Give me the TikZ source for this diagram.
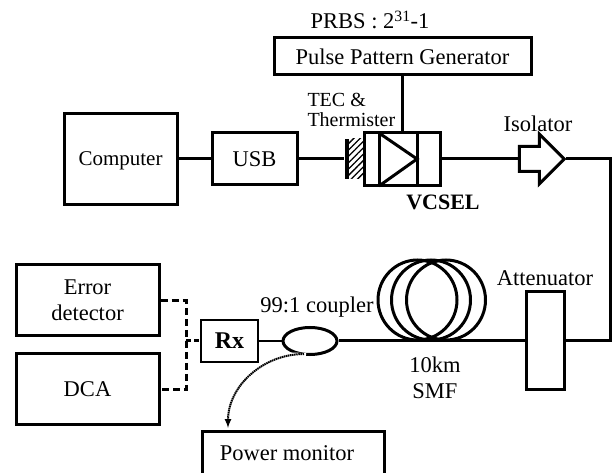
\documentclass[tikz,border=0pt]{standalone}
\usepackage{fontspec}
\setmainfont{Liberation Serif}
\usetikzlibrary{shapes.geometric}
\usetikzlibrary{shapes.arrows}
\usetikzlibrary{patterns.meta}
\usetikzlibrary{arrows,positioning}
\newcommand\fs{\fontsize{22.5}{26}\selectfont}
\tikzset{box/.style={draw,shape=rectangle,line width=3pt,inner sep=0pt,font=\fs,align=center},
        coil/.style={draw,shape=ellipse,line width=3pt,inner sep=0pt,minimum width=79,minimum height=80}}
\begin{document}
\begin{tikzpicture}[x=1pt,y=-1pt,line width=3pt]%
        \useasboundingbox (0,0) rectangle (614,473); %%
        \clip (0,0) rectangle (614,473); %%
        \node[box,minimum width=257,minimum height=37] (ppg) at (402.5,56.5)  {Pulse Pattern Generator}; %%
        \node[box,minimum width=113,minimum height=91,text depth=0pt,font=\fontsize{21}{26}\selectfont] (comp) at (120.5,159)  {Computer}; %%
        \node[box,minimum width=85,minimum height=52] (usb) at (254.5,159)  {USB}; %%
        \node[box,minimum width=76,minimum height=53] (vcsel) at (402,159)  {}; %%
        \node[box,minimum width=38,minimum height=98] (att) at (545,341)  {}; %%
        \node[box,minimum width=143,minimum height=71] (err) at (87.5,300.5)  {Error\\detector}; %%
        \node[box,minimum width=143,minimum height=71] (dca) at (87.5,389.5)  {DCA}; %%
        \node[box,minimum width=182,minimum height=44] (pm) at (293,453.5)  {}; %%
        \node[box,minimum width=57,minimum height=42,line width=2.2pt,font=\fontsize{24}{26}\selectfont\bfseries] (rx) at (229.5,341)  {Rx}; %%
        \begin{scope}[inner sep=0pt]
        \tikzstyle{every node}=[font=\fs,align=center] %%
        \node (prbs) at (370,20)  {PRBS : 2\textsuperscript{31}-1}; %%
        \node[align=left,anchor=west,font=\fontsize{20}{20}\selectfont] (tec) at (306,110)  {TEC \&\\Thermister}; %%
        \node[font=\fontsize{22}{26}\selectfont\bfseries] (vlab) at (443,202)  {VCSEL}; %%
        \node (isolab) at (538,124)  {Isolator}; %%
        \node (attlab) at (545,278)  {Attenuator}; %%
        \node (cplab) at (317,307)  {99:1 coupler}; %%
        \node (smf) at (435,378)  {10km\\SMF}; %%
        \node (pmlab) at (287,453)  {Power monitor}; %%
        \end{scope}
        \node[coil] (coil1) at (417.5,300)  {}; %%
        \node[coil] (coil2) at (431,300)  {}; %%
        \node[coil] (coil3) at (446,300)  {}; %%
        \node[draw,line width=3pt,shape=ellipse,inner sep=0pt,minimum width=54,minimum height=27] (cp) at (310,341)  {}; %%
        \node[draw=none,pattern={Lines[angle=45,distance=4.5pt,line width=1.3pt]},inner sep=0pt,minimum width=15,minimum height=40] (hatch) at (356.5,159)  {}; %%
        \node[fill=black,inner sep=0pt,minimum width=4,minimum height=40] (bar) at (347,159)  {}; %%
        \node[draw,line width=3pt,shape=single arrow,inner xsep=0pt,inner ysep=11pt,minimum height=45,minimum width=47,single arrow head extend=12.5pt] (iso) at (535.5,159)  {}; %%
        \coordinate (bend) at (610,341); %%
        \coordinate (dj) at (186,341); %%
        \coordinate (tap) at (304,354); %%
        \coordinate (pmin) at (228,428); %%
        \coordinate (dl1) at (379,133); %%
        \coordinate (dl2) at (379,186); %%
        \coordinate (dl3) at (417,133); %%
        \coordinate (dl4) at (417,186); %%
        \coordinate (dtip) at (417,159); %%
        \draw (comp)--(usb); %%
        \draw (usb)--(bar); %%
        \draw (ppg.south -| vcsel.north)--(vcsel.north); %%
        \draw (dl1)--(dl2); %%
        \draw (dl3)--(dl4); %%
        \draw (dl1)--(dtip)--(dl2); %%
        \draw (vcsel.east)--(iso.west); %%
        \draw (iso.tip)-|(bend)--(att.east); %%
        \draw (att.west)--(cp.east); %%
        \draw[line width=2.4pt] (cp.west)--(rx.east); %%
        \draw[dash pattern=on 7pt off 4pt] (err.east)-|(dj)|-(dca.east); %%
        \draw[dash pattern=on 5pt off 3pt] (dj)--(rx.west); %%
        \draw[white,line width=4pt] (291,354.5)--(306,355); %%
        \draw[->,-latex,dash pattern=on 1.5pt off .6pt,line width=2pt] (tap) to[out=180,in=90] (pmin); %%
        \end{tikzpicture}
\end{document}
